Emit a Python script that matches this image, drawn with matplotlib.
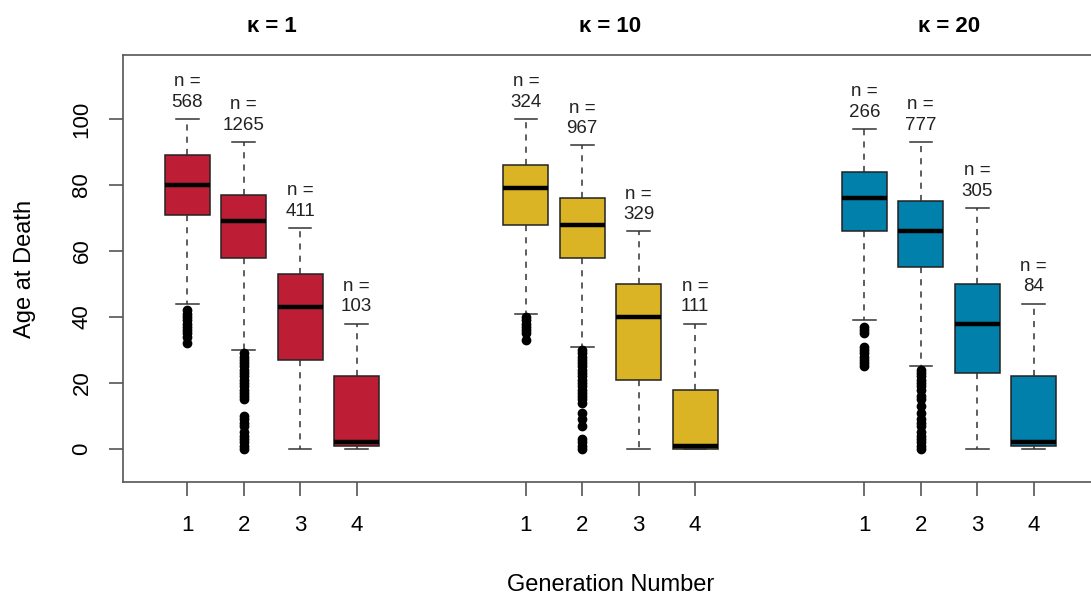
import numpy as np
import matplotlib.pyplot as plt
import matplotlib.transforms as mtransforms

plt.rcParams['font.family'] = ['Liberation Sans', 'DejaVu Sans']

kappas = ["κ = 1", "κ = 10", "κ = 20"]
generations = ["1", "2", "3", "4"]
colors = ["#BD1E35", "#DAB424", "#0080AA"]

# box statistics per kappa, per generation
counts = [[568, 1265, 411, 103],
          [324, 967, 329, 111],
          [266, 777, 305, 84]]
whislo = [[44, 30, 0, 0],
          [41, 31, 0, 0],
          [39, 25, 0, 0]]
q1 = [[71, 58, 27, 1],
      [68, 58, 21, 0],
      [66, 55, 23, 1]]
med = [[80, 69, 43, 2],
       [79, 68, 40, 1],
       [76, 66, 38, 2]]
q3 = [[89, 77, 53, 22],
      [86, 76, 50, 18],
      [84, 75, 50, 22]]
whishi = [[100, 93, 67, 38],
          [100, 92, 66, 38],
          [97, 93, 73, 44]]
outliers = [
    [[42, 41, 40, 39, 38, 37, 36, 35, 34, 32],
     [29, 28, 27, 26, 25, 24, 23, 22, 21, 20, 19, 18, 17, 16, 15,
      10, 9, 8, 7, 5, 4, 3, 2, 1, 0],
     [], []],
    [[40, 39, 38, 37, 36, 35, 33],
     [30, 29, 28, 27, 26, 25, 24, 23, 22, 21, 20, 19, 18, 17, 16, 15, 14,
      11, 9, 7, 3, 2, 1, 0],
     [], []],
    [[37, 36, 35, 31, 30, 29, 28, 27, 26, 25],
     [24, 23, 22, 21, 20, 19, 18, 16, 15, 13, 11, 9, 8, 7, 5, 4, 3, 2, 1, 0],
     [], []],
]

fig = plt.figure(figsize=(10.91, 5.94), dpi=100)
ax = fig.add_axes([0.1127, 0.1886, 0.8937, 0.7189])

trans = mtransforms.blended_transform_factory(ax.transData, ax.transAxes)
all_pos = []
for k in range(3):
    pos = [6 * k + g + 1 for g in range(4)]
    all_pos += pos
    stats = []
    for g in range(4):
        stats.append(dict(med=med[k][g], q1=q1[k][g], q3=q3[k][g],
                          whislo=whislo[k][g], whishi=whishi[k][g],
                          fliers=outliers[k][g]))
    bp = ax.bxp(stats, positions=pos, widths=0.8, capwidths=0.4,
                patch_artist=True, showfliers=True,
                boxprops=dict(facecolor=colors[k], edgecolor='#222222', linewidth=1.1),
                medianprops=dict(color='black', linewidth=3.2, solid_capstyle='butt'),
                whiskerprops=dict(color='#333333', linewidth=1.1, linestyle=(0, (4, 4))),
                capprops=dict(color='#333333', linewidth=1.1),
                flierprops=dict(marker='o', markersize=6, markerfacecolor='black',
                                markeredgecolor='black', linestyle='none'))
    for g in range(4):
        ax.annotate(f"n =\n{counts[k][g]}", xy=(pos[g], whishi[k][g]),
                    xytext=(0, 6), textcoords='offset points',
                    ha='center', va='bottom', fontsize=13.5, color='#222222',
                    linespacing=1.25)
    ax.text(6 * k + 2.5, 1.066, kappas[k], transform=trans, ha='center',
            va='center', fontsize=16, fontweight='bold')

ax.set_xlim(-0.14, 17.14)
ax.set_ylim(-10, 119.4)
ax.set_xticks(all_pos)
ax.set_xticklabels(generations * 3)
ax.set_yticks([0, 20, 40, 60, 80, 100])
ax.set_yticklabels(["0", "20", "40", "60", "80", "100"], rotation=90, va='center')

for side in ['left', 'bottom', 'top', 'right']:
    ax.spines[side].set_color('#555555')
    ax.spines[side].set_linewidth(1.2)
ax.tick_params(axis='both', length=10, width=1.2, color='#555555',
               labelsize=16, pad=14)
ax.tick_params(axis='y', pad=12)

ax.set_xlabel("Generation Number", fontsize=17)
ax.set_ylabel("Age at Death", fontsize=17)
ax.xaxis.set_label_coords(0.5, -0.215)
ax.yaxis.set_label_coords(-0.089, 0.5)

fig.savefig("out.png", dpi=100)
